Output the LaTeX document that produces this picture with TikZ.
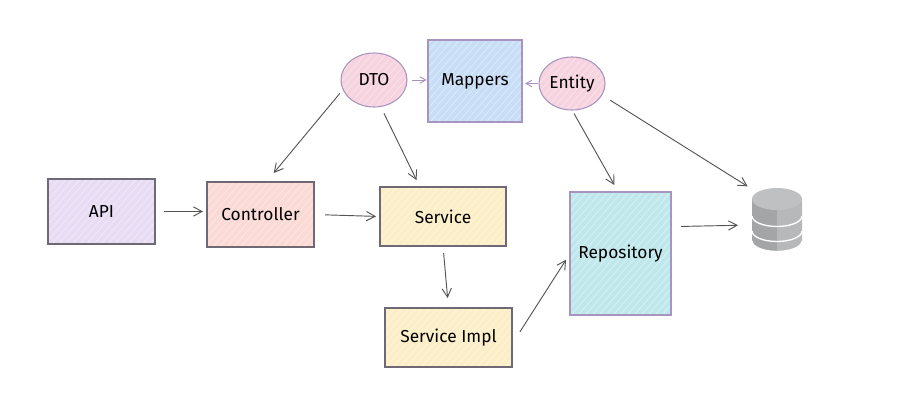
\documentclass[tikz,border=0pt]{standalone}
\usepackage{fontspec}
\setmainfont{Fira Sans}
\usetikzlibrary{shapes.geometric,arrows.meta}
\definecolor{apifill}{HTML}{E8DCF5}
\definecolor{ctrlfill}{HTML}{FBD9D5}
\definecolor{servfill}{HTML}{FCEFC7}
\definecolor{repofill}{HTML}{C0E8EC}
\definecolor{mapfill}{HTML}{C8DEF6}
\definecolor{ovalfill}{HTML}{F6D3DE}
\definecolor{edge}{HTML}{6F6875}
\definecolor{purpleedge}{HTML}{A894C0}
\definecolor{arrowgray}{HTML}{555555}
\definecolor{dbtop}{HTML}{BFC0C1}
\definecolor{dbleft}{HTML}{A3A5A6}
\definecolor{dbright}{HTML}{B7B8B9}
\tikzset{
  x=0.75pt,y=-0.75pt,
  hachure/.style={path picture={
    \foreach \k in {-32,...,32}
      \draw[white,opacity=.4,line width=0.6pt,shift={(path picture bounding box.center)}]
        (\k*7-130,150)--(\k*7+130,-150);
  }},
  boxbase/.style={draw=edge,line width=0.8pt,inner sep=0pt,outer sep=0pt,hachure,font=\fontsize{13}{15}\selectfont},
  sketchbox/.style={boxbase,rectangle},
  oval/.style={boxbase,ellipse,draw=purpleedge,fill=ovalfill},
  link/.style={draw=arrowgray,line width=0.7pt,-{Straight Barb[length=6.5pt,width=7pt]}},
  softlink/.style={draw=purpleedge,line width=0.7pt,-{Straight Barb[length=4.5pt,width=5pt]}},
}
\begin{document}
\begin{tikzpicture}
\useasboundingbox (0,0) rectangle (905,404);
\node[sketchbox,fill=apifill,minimum width=80.25pt,minimum height=48.75pt] (api) at (101.5,211.5) {API};
\node[sketchbox,fill=ctrlfill,minimum width=80.25pt,minimum height=48.75pt] (ctrl) at (260.5,214.5) {Controller};
\node[sketchbox,fill=servfill,minimum width=94.5pt,minimum height=44.25pt] (serv) at (443,216.5) {Service};
\node[sketchbox,fill=servfill,minimum width=95.25pt,minimum height=44.25pt] (impl) at (448.5,337.5) {Service Impl};
\node[sketchbox,fill=repofill,draw=purpleedge,minimum width=75.75pt,minimum height=92.25pt] (repo) at (620.5,253.5) {Repository};
\node[sketchbox,fill=mapfill,draw=purpleedge,minimum width=70.5pt,minimum height=61.5pt] (map) at (475,81) {Mappers};
\node[oval,minimum width=49.5pt,minimum height=40.5pt] (dto) at (374,80) {DTO};
\node[oval,minimum width=49.5pt,minimum height=39.75pt] (ent) at (572,83.5) {Entity};
\node[inner sep=0pt,outer sep=0pt,minimum width=39pt,minimum height=45.75pt] (db) at (777,219) {};
% database: layers drawn bottom to top (y axis points down, so the lower half of an ellipse runs 180 -> 90 -> 0)
\foreach \t/\b in {231/241,216/231,199/216}{
  \fill[dbleft] (752,\t) -- (752,\b) arc[start angle=180,end angle=90,x radius=25,y radius=10.5] -- (777,\t) -- cycle;
  \fill[dbright] (777,\t) -- (777,\b+10.5) arc[start angle=90,end angle=0,x radius=25,y radius=10.5] -- (802,\t) -- cycle;
  \draw[white,line width=1pt] (752,\b) arc[start angle=180,end angle=0,x radius=25,y radius=10.5];
}
\fill[dbtop] (777,199) ellipse[x radius=25,y radius=11];
% connectors
\draw[link,shorten <=6.75pt,shorten >=3pt] (api.east) -- (ctrl.west |- api.east);
\draw[link,shorten <=8.25pt,shorten >=3pt] (ctrl.east) -- (serv.west);
\draw[link,shorten <=5.25pt,shorten >=7.5pt] (serv.south) -- (impl.north);
\draw[link,shorten <=11pt,shorten >=5.5pt] (impl.354.6) -- (repo.west);
\draw[link,shorten <=7.5pt,shorten >=9.75pt] (repo.28.6) -- (db.193);
\draw[link,shorten <=3.75pt,shorten >=8.8pt] (dto.197) -- (ctrl.80);
\draw[link,shorten <=5.75pt,shorten >=5.75pt] (dto.284) -- (serv.128.8);
\draw[link,shorten <=3pt,shorten >=6pt] (ent.south) -- (repo.92.8);
\draw[link,shorten <=7.5pt,shorten >=3pt] (ent.339) -- (db.north west);
\draw[softlink,shorten <=3.5pt,shorten >=1pt] (dto.east) -- (map.west |- dto.east);
\draw[softlink,shorten <=1pt,shorten >=2.25pt] (ent.west) -- (map.east |- ent.west);
\end{tikzpicture}
\end{document}
